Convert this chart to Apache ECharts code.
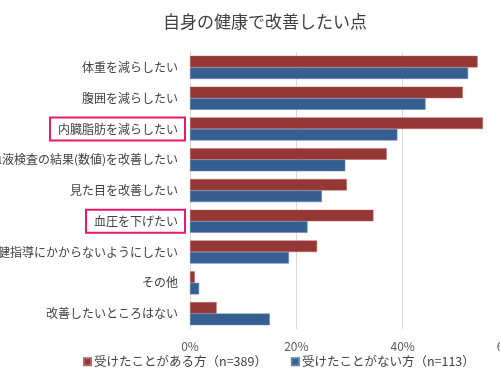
<!DOCTYPE html>
<html>
<head>
<meta charset="utf-8">
<script src="https://cdn.jsdelivr.net/npm/echarts@6/dist/echarts.min.js"></script>
<style>
  html, body { margin: 0; padding: 0; background: #fff; }
  #chart { width: 500px; height: 375px; }
</style>
</head>
<body>
<div id="chart"></div>
<script>
const categories = [
  "体重を減らしたい",
  "腹囲を減らしたい",
  "内臓脂肪を減らしたい",
  "血液検査の結果(数値)を改善したい",
  "見た目を改善したい",
  "血圧を下げたい",
  "特定保健指導にかからないようにしたい",
  "その他",
  "改善したいところはない"
];
// 枠で囲まれている項目
const highlighted = ["内臓脂肪を減らしたい", "血圧を下げたい"];

const received = [54.1, 51.3, 55.1, 37.0, 29.5, 34.5, 23.9, 0.9, 5.0];
const notReceived = [52.3, 44.3, 39.0, 29.2, 24.8, 22.1, 18.6, 1.7, 15.0];
const xTicks = [0, 20, 40, 60];

const fontFamily = "'Noto Sans CJK JP', 'Noto Sans', sans-serif";

let myChart = echarts.init(document.getElementById("chart"));
myChart.setOption({
  textStyle: { fontFamily: fontFamily },
  title: {
    text: "自身の健康で改善したい点",
    left: 260,
    textAlign: "center",
    top: 8,
    textStyle: { fontSize: 17, fontWeight: "normal", color: "#404040", fontFamily: fontFamily },
  },
  grid: {
    left: 190,
    right: -9,
    top: 52,
    height: 277,
    outerBoundsMode: "none",
    containLabel: false,
  },
  legend: {
    bottom: 2,
    left: 78,
    itemWidth: 7,
    itemHeight: 7,
    itemGap: 24,
    icon: "rect",
    textStyle: { fontSize: 12.5, color: "#404040", padding: [0, 0, 0, -2] },
  },
  xAxis: {
    type: "value",
    min: xTicks[0],
    max: xTicks[xTicks.length - 1],
    interval: 20,
    axisLine: { show: false },
    axisTick: { show: false },
    axisLabel: {
      formatter: "{value}%",
      fontSize: 12,
      color: "#595959",
      margin: 11,
    },
    splitLine: { lineStyle: { color: "#d9d9d9", width: 1 } },
  },
  yAxis: {
    type: "category",
    data: categories,
    inverse: true,
    axisLine: { show: true, lineStyle: { color: "#d9d9d9" } },
    axisTick: { show: false },
    axisLabel: {
      fontSize: 12,
      color: "#404040",
      margin: 5,
      formatter: function (v) {
        return highlighted.indexOf(v) >= 0 ? "{hl|" + v + "}" : "{n|" + v + "}";
      },
      rich: {
        n: {
          fontSize: 12,
          color: "#404040",
          padding: [0, 7, 0, 0],
        },
        hl: {
          fontSize: 12,
          color: "#404040",
          borderColor: "#e8196b",
          borderWidth: 2,
          padding: [6, 7, 5, 8],
        },
      },
    },
  },
  series: [
    {
      name: "受けたことがある方（n=389）",
      type: "bar",
      data: received,
      barGap: "0%",
      barCategoryGap: "25%",
      itemStyle: { color: "#953735", borderColor: "#b26664", borderWidth: 0.5 },
    },
    {
      name: "受けたことがない方（n=113）",
      type: "bar",
      data: notReceived,
      itemStyle: { color: "#365f91", borderColor: "#5f7fa8", borderWidth: 0.5 },
    },
  ],
});
</script>
</body>
</html>
